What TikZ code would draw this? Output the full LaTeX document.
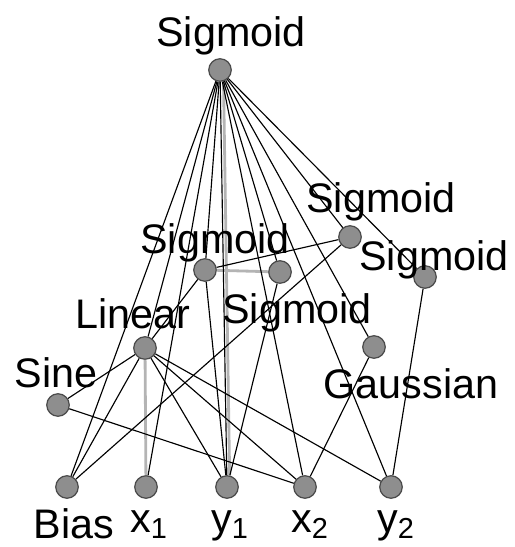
\documentclass[tikz,border=0pt]{standalone}
\usepackage{fontspec}
\setmainfont{Liberation Sans}
\usepackage{xcolor}
\usetikzlibrary{positioning}
\definecolor{nodegray}{HTML}{8E8E8E}
\definecolor{rimgray}{HTML}{4A4A4A}
\definecolor{offgray}{HTML}{B4B4B4}

\begin{document}
\begin{tikzpicture}[x=0.02cm,y=-0.02cm,unit/.style={circle,draw=rimgray,fill=nodegray,line width=0.7pt,minimum size=0.45cm,inner sep=0pt},lbl/.style={anchor=base,inner sep=0pt,font=\fontsize{23.5}{28}\selectfont},conn/.style={draw=black,line width=0.65pt},off/.style={draw=offgray,line width=1.6pt}]
\useasboundingbox (0,0) rectangle (514,547);
% units
\node[unit] (t) at (220,70) {};
\node[unit] (s1) at (205,270) {};
\node[unit] (s2) at (280,272) {};
\node[unit] (s3) at (350,237) {};
\node[unit] (s4) at (425,277) {};
\node[unit] (gau) at (374,347) {};
\node[unit] (lin) at (145,348) {};
\node[unit] (sine) at (58,405) {};
\node[unit] (bias) at (67,487) {};
\node[unit] (xa) at (146,487) {};
\node[unit] (ya) at (227,487) {};
\node[unit] (xb) at (305,487) {};
\node[unit] (yb) at (391,487) {};
% disabled links
\draw[off] (lin)--(xa);\draw[off] (s1)--(s2);
\draw[off] ([xshift=2pt]t.south)--([xshift=1.5pt]ya.north);
% links
\foreach \n in {bias,lin,xa,s1,ya,xb,s2,yb,gau,s3,s4} \draw[conn] (t)--(\n);
\draw[conn] (s3)--(s1);\draw[conn] (lin)--(s1);\draw[conn] (s1)--(ya);
\draw[conn] (s2)--(ya);\draw[conn] (bias)--(s3);\draw[conn] (s4)--(yb);
\draw[conn] (gau)--(xb);\draw[conn] (sine)--(lin);\draw[conn] (sine)--(xb);
\foreach \n in {bias,ya,xb,yb} \draw[conn] (lin)--(\n);
% labels
\node[lbl] (lt) at (231,47) {Sigmoid};
\node[lbl] (ls1) at (215,253) {Sigmoid};
\node[lbl] (ls2) at (297,323) {Sigmoid};
\node[lbl] (ls3) at (381,213) {Sigmoid};
\node[lbl] (ls4) at (434,270) {Sigmoid};
\node[lbl] (llin) at (133,328) {Linear};
\node[lbl] (lsine) at (56,387) {Sine};
\node[lbl] (lgau) at (411,398) {Gaussian};
\node[lbl] (lbias) at (74,538) {Bias};
\node[lbl] (lxa) at (149,532) {x\textsubscript{1}};
\node[lbl] (lya) at (230,532) {y\textsubscript{1}};
\node[lbl] (lxb) at (310,532) {x\textsubscript{2}};
\node[lbl] (lyb) at (396,532) {y\textsubscript{2}};
\end{tikzpicture}
\end{document}
